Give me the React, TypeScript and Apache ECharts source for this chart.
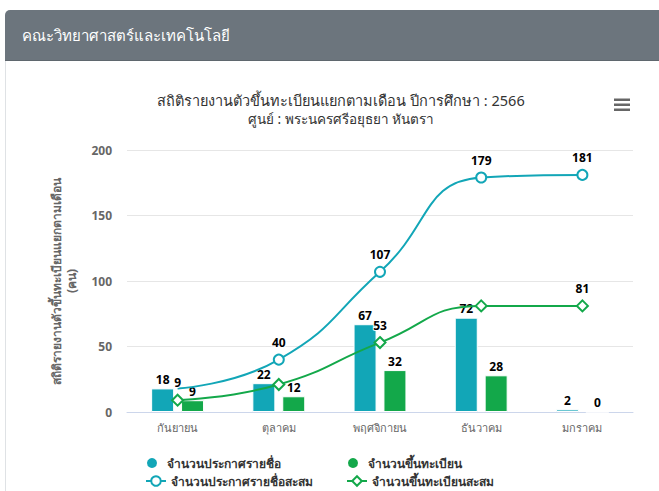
import React, { useEffect, useRef } from "react";
import * as echarts from "echarts";

const categories = ["กันยายน", "ตุลาคม", "พฤศจิกายน", "ธันวาคม", "มกราคม"];
const announced = [18, 22, 67, 72, 2];
const registered = [9, 12, 32, 28, 0];
const announcedCum = [18, 40, 107, 179, 181];
const registeredCum = [9, 21, 53, 81, 81];
const announcedCumLabelShown = [false, true, true, true, true];
const announcedCumMarkerShown = [false, true, true, true, true];
const registeredCumLabelShown = [true, false, true, false, true];
const yTicks = [0, 50, 100, 150, 200];

const seriesNames = [
  "จำนวนประกาศรายชื่อ",
  "จำนวนขึ้นทะเบียน",
  "จำนวนประกาศรายชื่อสะสม",
  "จำนวนขึ้นทะเบียนสะสม",
];

const BLUE = "#12a6b7";
const GREEN = "#13a84a";
const FONT = "'Noto Sans', 'DejaVu Sans', sans-serif";

const dataLabel = {
  show: true,
  position: "top" as const,
  distance: 3,
  fontSize: 12,
  fontWeight: "bold" as const,
  color: "#000",
  textBorderColor: "#fff",
  textBorderWidth: 2,
  fontFamily: FONT,
};

const legendText = { fontSize: 12, fontWeight: "bold" as const, color: "#333", fontFamily: FONT };

const oneLegend = (left: number, top: number, name: string, icon?: string) => ({
  orient: "horizontal",
  left,
  top,
  padding: 0,
  itemWidth: 20,
  itemHeight: 12,
  textStyle: legendText,
  data: [icon ? { name, icon } : { name }],
});

export default function App() {
  const ref = useRef<HTMLDivElement>(null);
  useEffect(() => {
    if (!ref.current) return;
    const chart = echarts.init(ref.current, undefined, { renderer: "svg" });
    chart.setOption({
      animation: false,
      backgroundColor: "#fff",
      textStyle: { fontFamily: FONT },
      graphic: [
        {
          type: "rect",
          shape: { x: 5, y: 10, width: 670, height: 50, r: [5, 0, 0, 0] },
          style: { fill: "#6c757d" },
          z: 0,
        },
        {
          type: "line",
          shape: { x1: 5.5, y1: 60, x2: 5.5, y2: 491 },
          style: { stroke: "#dfe2e5", lineWidth: 1 },
        },
        {
          type: "line",
          shape: { x1: 5, y1: 60.5, x2: 659, y2: 60.5 },
          style: { stroke: "#5f676e", lineWidth: 1 },
        },
        {
          type: "text",
          x: 22,
          y: 35,
          style: {
            text: "คณะวิทยาศาสตร์และเทคโนโลยี",
            fill: "#fff",
            fontSize: 15,
            fontFamily: FONT,
            verticalAlign: "middle",
          },
        },
        { type: "rect", shape: { x: 614, y: 98.5, width: 16, height: 2.5 }, style: { fill: "#666" } },
        { type: "rect", shape: { x: 614, y: 103.5, width: 16, height: 2.5 }, style: { fill: "#666" } },
        { type: "rect", shape: { x: 614, y: 108.5, width: 16, height: 2.5 }, style: { fill: "#666" } },
      ],
      title: {
        text: "สถิติรายงานตัวขึ้นทะเบียนแยกตามเดือน ปีการศึกษา : 2566",
        subtext: "ศูนย์ : พระนครศรีอยุธยา หันตรา",
        left: 336,
        textAlign: "center",
        top: 87,
        itemGap: 5,
        textStyle: { fontSize: 14.5, fontWeight: "normal", color: "#333", fontFamily: FONT },
        subtextStyle: { fontSize: 13.5, color: "#333", fontFamily: FONT },
      },
      legend: [
        oneLegend(145, 456, seriesNames[0], "circle"),
        oneLegend(346, 456, seriesNames[1], "circle"),
        oneLegend(145, 475, seriesNames[2]),
        oneLegend(346, 475, seriesNames[3]),
      ],
      grid: { left: 127, right: 26, top: 150, bottom: 79 },
      xAxis: {
        type: "category",
        data: categories,
        axisLine: { lineStyle: { color: "#ccd6eb" } },
        axisTick: { show: false },
        axisLabel: { color: "#666", fontSize: 11, margin: 10, fontFamily: FONT },
      },
      yAxis: {
        type: "value",
        min: yTicks[0],
        max: yTicks[yTicks.length - 1],
        interval: 50,
        name: "สถิติรายงานตัวขึ้นทะเบียนแยกตามเดือน\n(คน)",
        nameLocation: "middle",
        nameRotate: 90,
        nameGap: 48,
        nameTextStyle: { color: "#666", fontSize: 12, fontWeight: "bold", fontFamily: FONT, lineHeight: 15 },
        axisLabel: { color: "#666", fontSize: 12, fontWeight: "bold", margin: 15, fontFamily: FONT },
        splitLine: { lineStyle: { color: "#e6e6e6" } },
      },
      series: [
        {
          name: seriesNames[0],
          type: "bar",
          data: announced,
          barWidth: 23,
          barGap: "30%",
          itemStyle: { color: BLUE, borderColor: "#fff", borderWidth: 1 },
          label: dataLabel,
        },
        {
          name: seriesNames[1],
          type: "bar",
          data: registered,
          barWidth: 23,
          itemStyle: { color: GREEN, borderColor: "#fff", borderWidth: 1 },
          label: dataLabel,
        },
        {
          name: seriesNames[2],
          type: "line",
          smooth: true,
          data: announcedCum.map((v, i) => ({
            value: v,
            label: { show: announcedCumLabelShown[i] },
            symbol: announcedCumMarkerShown[i] ? "emptyCircle" : "none",
          })),
          symbol: "emptyCircle",
          symbolSize: 10,
          lineStyle: { color: BLUE, width: 2 },
          itemStyle: { color: BLUE, borderWidth: 2 },
          label: { ...dataLabel, distance: 5 },
          z: 3,
        },
        {
          name: seriesNames[3],
          type: "line",
          smooth: true,
          data: registeredCum.map((v, i) => ({ value: v, label: { show: registeredCumLabelShown[i] } })),
          symbol: "emptyDiamond",
          symbolSize: 11,
          lineStyle: { color: GREEN, width: 2 },
          itemStyle: { color: GREEN, borderWidth: 2 },
          label: { ...dataLabel, distance: 5 },
          z: 3,
        },
      ],
    });
    return () => chart.dispose();
  }, []);
  return (
    <div
      ref={ref}
      style={{ position: "fixed", left: 0, top: 0, width: 659, height: 491 }}
    />
  );
}
